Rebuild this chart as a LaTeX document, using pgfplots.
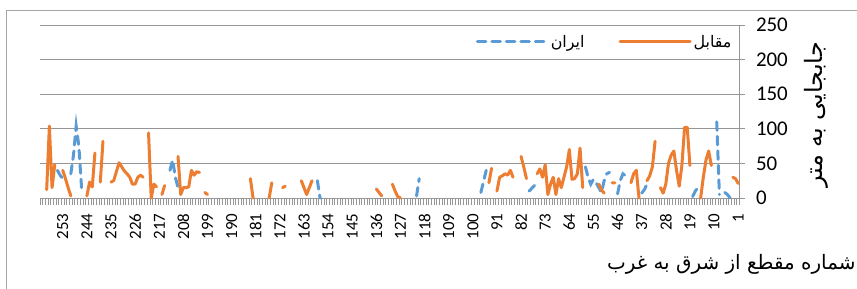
\documentclass[border=0pt]{standalone}
\usepackage{pgfplots}
\usepackage{pgfplotstable}
\pgfplotsset{compat=1.18}
\usepackage{fontspec}
\setmainfont{Carlito}
\newfontfamily\arabicfont[Script=Arabic]{DejaVu Sans}
\TeXXeTstate=1
\definecolor{xlorange}{RGB}{237,125,49}
\definecolor{xlblue}{RGB}{91,155,213}
\definecolor{gridgray}{RGB}{150,150,150}
\definecolor{framegray}{RGB}{165,165,165}
\pgfplotstableread{
c v
259 12
258 104
257 15
256 48
nan nan
253 40
252 28
251 15
250 3
nan nan
244 3
243 23
242 16
241 65
nan nan
239 23
238 82
nan nan
235 23
234 25
233 38
232 51
231 45
230 39
229 35
228 30
227 20
226 20
225 30
224 33
223 30
nan nan
221 94
220 0
219 20
218 16
nan nan
216 5
215 18
nan nan
210 60
209 5
208 15
207 15
206 16
205 40
204 33
203 38
202 37
nan nan
200 8
199 5
nan nan
183 28
182 0
nan nan
176 0
175 22
nan nan
171 15
170 17
nan nan
164 25
163 15
162 5
161 15
160 25
nan nan
136 13
135 8
134 3
nan nan
130 20
129 10
128 2
127 0
nan nan
94 22
93 43
nan nan
91 10
90 30
89 32
88 35
87 33
86 40
85 30
nan nan
82 60
81 45
80 28
nan nan
76 35
75 42
74 30
73 48
72 5
71 20
70 30
69 5
68 28
67 15
66 30
65 45
64 70
63 27
62 28
61 35
60 72
59 15
nan nan
53 20
52 12
51 7
nan nan
48 22
47 22
nan nan
41 22
40 35
39 40
38 0
nan nan
35 25
34 32
33 45
32 82
nan nan
30 15
29 7
28 20
27 50
26 62
25 68
24 40
23 17
22 47
21 102
20 102
19 47
nan nan
15 0
14 30
13 55
12 68
11 47
nan nan
3 30
2 28
1 21
}\orangedata
\pgfplotstableread{
c v
255 40
254 33
253 28
nan nan
250 35
249 62
248 104
247 75
246 15
nan nan
213 40
212 55
211 30
210 15
nan nan
158 25
157 0
nan nan
121 3
120 28
nan nan
97 8
96 24
95 40
nan nan
79 10
78 14
77 18
nan nan
58 45
57 30
56 20
55 27
54 22
53 15
52 8
51 25
50 35
49 37
nan nan
46 6
45 25
44 35
43 32
42 28
nan nan
37 7
36 12
35 20
nan nan
18 2
17 10
16 15
nan nan
9 110
8 5
nan nan
6 8
5 5
4 0
}\bluedata
\begin{document}
\begin{tikzpicture}[x=1bp,y=1bp]
\path[use as bounding box] (0,0) rectangle (857,288);
\draw[framegray, line width=1bp] (6.5,-2) -- (6.5,277) -- (860,277);
\begin{axis}[
  at={(40bp,90bp)}, anchor=south west, scale only axis,
  width=699.5bp, height=173bp,
  xmin=0.5, xmax=261.5, x dir=reverse,
  ymin=0, ymax=250,
  axis x line*=bottom, axis y line*=right,
  axis line style={gridgray, line width=0.9bp},
  ymajorgrids, grid style={gridgray, line width=0.9bp},
  xtick={1,10,...,253},
  minor xtick={0.5,1.5,...,261.5},
  ytick={0,50,...,250},
  tick align=outside,
  major tick length=5bp, minor tick length=7bp,
  tick style={gridgray, line width=0.7bp},
  major x tick style={draw=none},
  /pgf/number format/assume math mode=true,
  x tick label style={yshift=-7bp, rotate=90, anchor=east, font=\fontsize{17}{17}\selectfont},
  y tick label style={anchor=west, font=\fontsize{21}{21}\selectfont, xshift=8bp},
  unbounded coords=jump,
  legend style={at={(axis description cs:0.996,0.902)}, anchor=east, draw=none, fill=none,
    legend columns=2, font=\arabicfont\fontsize{16}{16}\selectfont,
    /tikz/every even column/.append style={column sep=32bp}},
  legend image code/.code={\draw[#1] (0bp,0bp) -- (70bp,0bp);},
  clip=false,
]
\addplot[xlblue, line width=3bp, line cap=round, dash pattern=on 8.5bp off 6bp] table[x=c, y=v] {\bluedata};
\addlegendentry{\beginR ایران\endR}
\addplot[xlorange, line width=3bp, line cap=round, line join=round] table[x=c, y=v] {\orangedata};
\addlegendentry{\beginR مقابل\endR}
\end{axis}
\node[rotate=90, font=\arabicfont\fontsize{24}{24}\selectfont] at (816,173) {\beginR جابجایی به متر\endR};
\node[anchor=east, font=\arabicfont\fontsize{20}{20}\selectfont] at (859,24) {\beginR شماره مقطع از شرق به غرب\endR};
\end{tikzpicture}
\end{document}
